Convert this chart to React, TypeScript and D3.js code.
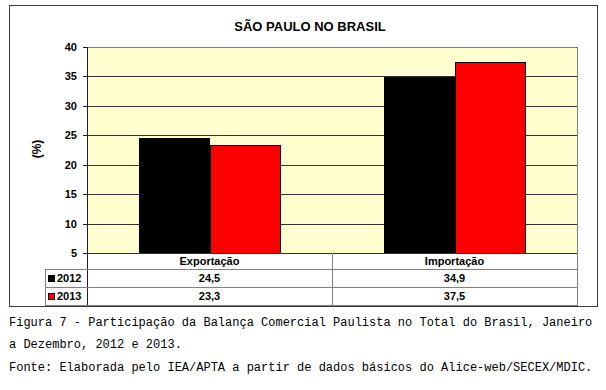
import React from "react";
import * as d3 from "d3";

const categories = ["Exportação", "Importação"];
const seriesNames = ["2012", "2013"];
const values2012 = [24.5, 34.9];
const values2013 = [23.3, 37.5];
const valueLabels2012 = ["24,5", "34,9"];
const valueLabels2013 = ["23,3", "37,5"];
const yTicks = [5, 10, 15, 20, 25, 30, 35, 40];
const seriesColors = ["#000000", "#ff0000"];
const title = "SÃO PAULO NO BRASIL";
const yLabel = "(%)";
const captionLines = [
  "Figura 7 - Participação da Balança Comercial Paulista no Total do Brasil, Janeiro",
  "a Dezembro, 2012 e 2013.",
  "Fonte: Elaborada pelo IEA/APTA a partir de dados básicos do Alice-web/SECEX/MDIC.",
];

export default function App() {
  const W = 606, H = 390;
  const left = 87, right = 577, top = 47, bottom = 253;
  const legendLeft = 45;
  const rowH = [253, 269, 287, 305];
  const y = d3.scaleLinear().domain([5, 40]).range([bottom, top]);
  const x0 = d3.scaleBand<string>().domain(categories).range([left, right]).padding(0);
  const bw = x0.bandwidth();
  const barW = bw * 0.286;
  const series = [values2012, values2013];
  const labels = [valueLabels2012, valueLabels2013];
  const sans = "'Liberation Sans', Arial, sans-serif";
  const gridColor = "#333333";
  const tableColor = "#808080";

  return (
    <svg width={W} height={H} style={{ position: "absolute", left: 0, top: 0, background: "#fff" }}>
      <rect x={0} y={0} width={W} height={H} fill="#ffffff" />
      {/* outer frame */}
      <rect x={9.5} y={5.5} width={588} height={301} fill="none" stroke="#3a3a3a" strokeWidth={1} />
      {/* title */}
      <text x={310} y={31} textAnchor="middle" fontFamily={sans} fontWeight="bold" fontSize={13}>{title}</text>
      {/* plot background */}
      <rect x={left} y={top} width={right - left} height={bottom - top} fill="#ffffcf" />
      {/* grid lines */}
      {yTicks.map((t) => (
        <line key={"g" + t} x1={left} x2={right} y1={Math.round(y(t)) + 0.5} y2={Math.round(y(t)) + 0.5} stroke={t === 40 ? tableColor : gridColor} strokeWidth={1} />
      ))}
      {/* right border */}
      <line x1={right + 0.5} x2={right + 0.5} y1={top} y2={bottom} stroke={tableColor} />
      {/* bars */}
      {categories.map((c, ci) =>
        series.map((s, si) => {
          const cx = (x0(c) as number) + bw / 2;
          const bx = cx - barW + si * barW;
          return (
            <rect key={c + si} x={Math.round(bx) + 0.5} y={Math.round(y(s[ci])) + 0.5} width={Math.round(barW)} height={Math.round(y(5)) - Math.round(y(s[ci]))} fill={seriesColors[si]} stroke="#000" strokeWidth={1} />
          );
        })
      )}
      {/* y axis */}
      <line x1={left + 0.5} x2={left + 0.5} y1={top} y2={rowH[3]} stroke="#222" />
      {yTicks.map((t) => (
        <g key={"t" + t}>
          <line x1={left - 4} x2={left} y1={Math.round(y(t)) + 0.5} y2={Math.round(y(t)) + 0.5} stroke="#222" />
          <text x={77} y={y(t) + 4} textAnchor="end" fontFamily={sans} fontWeight="bold" fontSize={11}>{t}</text>
        </g>
      ))}
      <text transform={`translate(41,149) rotate(-90)`} textAnchor="middle" fontFamily={sans} fontWeight="bold" fontSize={12}>{yLabel}</text>
      {/* data table */}
      <g stroke={tableColor} strokeWidth={1}>
        <line x1={left} x2={right} y1={rowH[0] + 0.5} y2={rowH[0] + 0.5} stroke={gridColor} />
        {[1, 2, 3].map((r) => (
          <line key={"h" + r} x1={legendLeft} x2={right + 1} y1={rowH[r] + 0.5} y2={rowH[r] + 0.5} />
        ))}
        <line x1={legendLeft + 0.5} x2={legendLeft + 0.5} y1={rowH[1]} y2={rowH[3]} />
        <line x1={(x0(categories[1]) as number) + 0.5} x2={(x0(categories[1]) as number) + 0.5} y1={rowH[0]} y2={rowH[3]} />
        <line x1={right + 0.5} x2={right + 0.5} y1={rowH[0]} y2={rowH[3]} />
      </g>
      {categories.map((c) => (
        <text key={"c" + c} x={(x0(c) as number) + bw / 2} y={rowH[0] + 12} textAnchor="middle" fontFamily={sans} fontWeight="bold" fontSize={11}>{c}</text>
      ))}
      {seriesNames.map((n, si) => (
        <g key={"s" + n}>
          <rect x={48.5} y={rowH[si + 1] + 6.5} width={6} height={6} fill={seriesColors[si]} stroke="#000" />
          <text x={57} y={rowH[si + 1] + 13} fontFamily={sans} fontWeight="bold" fontSize={11}>{n}</text>
          {categories.map((c, ci) => (
            <text key={c} x={(x0(c) as number) + bw / 2} y={rowH[si + 1] + 13} textAnchor="middle" fontFamily={sans} fontWeight="bold" fontSize={11}>{labels[si][ci]}</text>
          ))}
        </g>
      ))}
      {/* caption */}
      {captionLines.map((l, i) => (
        <text key={"cap" + i} x={9} y={[326, 347.5, 371][i]} fontFamily="'Liberation Mono', 'Courier New', monospace" fontSize={12} xmlSpace="preserve">{l}</text>
      ))}
    </svg>
  );
}
